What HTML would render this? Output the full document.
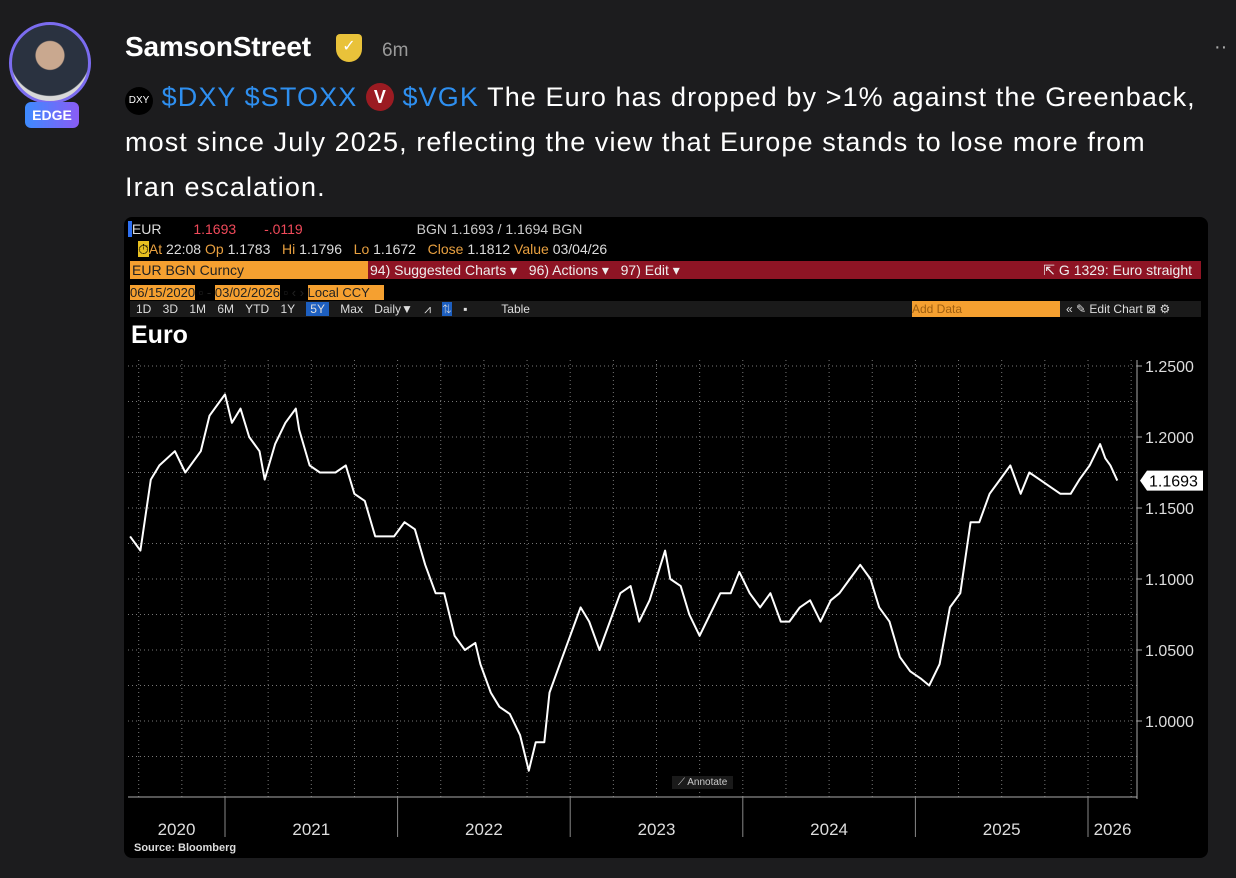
<!DOCTYPE html>
<html><head><meta charset="utf-8"><style>
body{margin:0;width:1236px;height:878px;background:#1c1c1e;font-family:"Liberation Sans",sans-serif;overflow:hidden;position:relative;color:#fff}
.abs{position:absolute}
.bb{font-family:"Liberation Sans",sans-serif;font-size:14px;white-space:nowrap}
</style></head><body>
<div class="abs" style="left:9px;top:22px;width:82px;height:82px;border-radius:50%;border:3px solid #7b6cf0;box-sizing:border-box;background:radial-gradient(circle at 50% 40%,#c9a88f 0 14px,#2a3240 15px 40px,#d8d8d8 41px)"></div>
<div class="abs" style="left:25px;top:102px;width:54px;height:26px;border-radius:6px;background:linear-gradient(90deg,#3d8bff,#8a5cf5);font-weight:bold;font-size:14px;text-align:center;line-height:26px">EDGE</div>
<div class="abs" style="left:125px;top:31px;font-size:28px;font-weight:bold;letter-spacing:-0.2px">SamsonStreet</div>
<div class="abs" style="left:336px;top:34px;width:26px;height:28px;background:#e9c23a;border-radius:4px 4px 13px 13px;text-align:center;color:#fff;font-size:16px;line-height:26px">✓</div>
<div class="abs" style="left:382px;top:40px;font-size:19px;color:#9a9a9a">6m</div>
<div class="abs" style="left:1214px;top:36px;font-size:20px;color:#aaa">··</div>
<div class="abs" style="left:125px;top:75px;width:1100px;font-size:27px;line-height:45px;white-space:nowrap;letter-spacing:1.1px">
<span style="display:inline-block;width:28px;height:28px;border-radius:50%;background:#000;font-size:10px;line-height:28px;text-align:center;vertical-align:3px;letter-spacing:0">DXY</span>
<span style="color:#2e8ff0">$DXY</span> <span style="color:#2e8ff0">$STOXX</span>
<span style="display:inline-block;width:28px;height:28px;border-radius:50%;background:#9b1b22;font-size:18px;font-weight:bold;line-height:28px;text-align:center;vertical-align:3px;letter-spacing:0">V</span>
<span style="color:#2e8ff0">$VGK</span> The Euro has dropped by &gt;1% against the Greenback,<br>most since July 2025, reflecting the view that Europe stands to lose more from<br>Iran escalation.</div>

<div class="abs" style="left:124px;top:217px;width:1084px;height:641px;background:#000;border-radius:8px;overflow:hidden">
<div class="abs bb" style="left:4px;top:4px;color:#ddd"><span style="background:#2e6ff0">&nbsp;</span>EUR <span style="color:#f04a5a;margin-left:28px">1.1693</span> <span style="color:#f04a5a;margin-left:24px">-.0119</span> <span style="margin-left:110px;color:#ccc">BGN 1.1693 / 1.1694 BGN</span></div>
<div class="abs bb" style="left:14px;top:24px;color:#e8a040"><span style="background:#e8c020;color:#000">⏱</span>At <span style="color:#ddd">22:08</span> Op <span style="color:#ddd">1.1783</span> &nbsp; Hi <span style="color:#ddd">1.1796</span> &nbsp; Lo <span style="color:#ddd">1.1672</span> &nbsp; Close <span style="color:#ddd">1.1812</span> Value <span style="color:#ddd">03/04/26</span></div>
<div class="abs" style="left:6px;top:44px;width:1071px;height:18px;background:#8e1424"></div>
<div class="abs bb" style="left:6px;top:44px;width:236px;height:18px;background:#f5a030;color:#222;line-height:18px;padding-left:2px">EUR BGN Curncy</div>
<div class="abs bb" style="left:246px;top:44px;line-height:18px;color:#eee">94) Suggested Charts ▾ &nbsp; 96) Actions ▾ &nbsp; 97) Edit ▾</div>
<div class="abs bb" style="right:16px;top:44px;line-height:18px;color:#eee">⇱ G 1329: Euro straight</div>
<div class="abs bb" style="left:6px;top:68px;font-size:13px;color:#222"><span style="background:#f5a030">06/15/2020</span> ▫ - <span style="background:#f5a030">03/02/2026</span> ▫ ‹ › <span style="background:#f5a030;padding-right:14px">Local CCY</span></div>
<div class="abs" style="left:6px;top:84px;width:1071px;height:16px;background:#1a1a1a"></div>
<div class="abs bb" style="left:12px;top:84px;font-size:12px;line-height:16px;color:#ddd;word-spacing:8px">1D 3D 1M 6M YTD 1Y <span style="background:#1d5fc0;padding:0 4px">5Y</span> Max Daily▼ ⩘ <span style="background:#1d5fc0">⇅</span> ▪ &nbsp; Table</div>
<div class="abs bb" style="left:788px;top:84px;width:148px;height:16px;background:#f5a030;color:#a06010;font-size:12px;line-height:16px">Add Data</div>
<div class="abs bb" style="left:942px;top:84px;font-size:12px;line-height:16px;color:#ddd">« ✎ Edit Chart ⊠ ⚙</div>
<div class="abs" style="left:7px;top:104px;font-size:25px;font-weight:bold">Euro</div>
<div class="abs bb" style="left:10px;top:625px;font-size:11px;font-weight:bold;color:#ddd">Source: Bloomberg</div>
</div>

<svg class="abs" style="left:0;top:0" width="1236" height="878">
<g id="grid"></g><g id="axes"></g><path id="line" fill="none" stroke="#fff" stroke-width="2" stroke-linejoin="round"/>
<g id="labels"></g>
</svg>
<div class="abs" style="left:672px;top:776px;font-size:10px;color:#ccc;background:#1a1a1a;padding:1px 6px">⟋ Annotate</div>
<script>
const dates=[2020.45,2020.51,2020.57,2020.62,2020.71,2020.77,2020.86,2020.91,2020.97,2021.00,2021.04,2021.09,2021.14,2021.20,2021.23,2021.29,2021.35,2021.41,2021.43,2021.49,2021.55,2021.64,2021.70,2021.75,2021.81,2021.87,2021.93,2021.98,2022.04,2022.10,2022.16,2022.22,2022.27,2022.33,2022.39,2022.45,2022.48,2022.54,2022.59,2022.65,2022.71,2022.76,2022.80,2022.85,2022.88,2022.94,2023.00,2023.06,2023.11,2023.17,2023.23,2023.29,2023.35,2023.40,2023.46,2023.55,2023.58,2023.64,2023.69,2023.75,2023.81,2023.87,2023.93,2023.98,2024.04,2024.10,2024.16,2024.22,2024.27,2024.33,2024.39,2024.45,2024.51,2024.56,2024.62,2024.68,2024.74,2024.79,2024.85,2024.91,2024.97,2025.03,2025.08,2025.14,2025.20,2025.26,2025.32,2025.37,2025.43,2025.49,2025.55,2025.61,2025.66,2025.72,2025.78,2025.84,2025.90,2025.95,2026.01,2026.07,2026.10,2026.13,2026.17];
const prices=[1.13,1.12,1.17,1.18,1.19,1.175,1.19,1.215,1.225,1.23,1.21,1.22,1.20,1.19,1.17,1.195,1.21,1.22,1.205,1.18,1.175,1.175,1.18,1.16,1.155,1.13,1.13,1.13,1.14,1.135,1.11,1.09,1.09,1.06,1.05,1.055,1.04,1.02,1.01,1.005,0.99,0.965,0.985,0.985,1.02,1.04,1.06,1.08,1.07,1.05,1.07,1.09,1.095,1.07,1.085,1.12,1.10,1.095,1.075,1.06,1.075,1.09,1.09,1.105,1.09,1.08,1.09,1.07,1.07,1.08,1.085,1.07,1.085,1.09,1.10,1.11,1.10,1.08,1.07,1.045,1.035,1.03,1.025,1.04,1.08,1.09,1.14,1.14,1.16,1.17,1.18,1.16,1.175,1.17,1.165,1.16,1.16,1.17,1.18,1.195,1.185,1.18,1.1693];
const yTicks=[1.25,1.20,1.15,1.10,1.05,1.00];
const years=[2020,2021,2022,2023,2024,2025,2026];
const lastValue=1.1693;
const NS='http://www.w3.org/2000/svg';
const X=t=>225+(t-2021)*172.6;
const Y=v=>721-(v-1.0)*1420;
const L=128,R=1137,T=360,B=797;
function mk(tag,attrs,parent){const e=document.createElementNS(NS,tag);for(const k in attrs)e.setAttribute(k,attrs[k]);parent.appendChild(e);return e;}
const grid=document.getElementById('grid'),axes=document.getElementById('axes'),labels=document.getElementById('labels');
for(let v=0.975;v<=1.26;v+=0.025){const g=mk('line',{x1:L,x2:R,y1:Y(v),y2:Y(v),stroke:'#777','stroke-dasharray':'1 3'},grid);

}
for(let t=2020.5;t<2026.3;t+=0.25){const g=mk('line',{x1:X(t),x2:X(t),y1:T,y2:B,stroke:'#777','stroke-dasharray':'1 3'},grid);

}
mk('line',{x1:R,x2:R,y1:T,y2:B+2,stroke:'#aaa'},axes);
mk('line',{x1:L,x2:R,y1:B,y2:B,stroke:'#aaa'},axes);
yTicks.forEach(v=>{mk('line',{x1:R,x2:R+5,y1:Y(v),y2:Y(v),stroke:'#aaa'},axes);
const t=mk('text',{x:R+8,y:Y(v)+6,fill:'#ddd','font-size':16,'font-family':'Liberation Sans'},labels);t.textContent=v.toFixed(4);

});
years.forEach((yr,i)=>{if(yr>2020)mk('line',{x1:X(yr),x2:X(yr),y1:B,y2:B+40,stroke:'#888'},axes);
const s=Math.max(X(yr),L),e=Math.min(X(yr+1),R);
const t=mk('text',{x:(s+e)/2,y:835,fill:'#ddd','font-size':17,'font-family':'Liberation Sans','text-anchor':'middle'},labels);t.textContent=yr;

});
const line=document.getElementById('line');
line.setAttribute('d',dates.map((d,i)=>(i?'L':'M')+X(d).toFixed(1)+' '+Y(prices[i]).toFixed(1)).join(''));


const ly=Y(lastValue);
const tag=mk('path',{d:`M${R+3} ${ly} L${R+10} ${ly-10} H${R+66} V${ly+10} H${R+10} Z`,fill:'#fff'},labels);


const tt=mk('text',{x:R+12,y:ly+6,fill:'#000','font-size':16,'font-family':'Liberation Sans'},labels);tt.textContent=lastValue.toFixed(4);


</script>
</body></html>
